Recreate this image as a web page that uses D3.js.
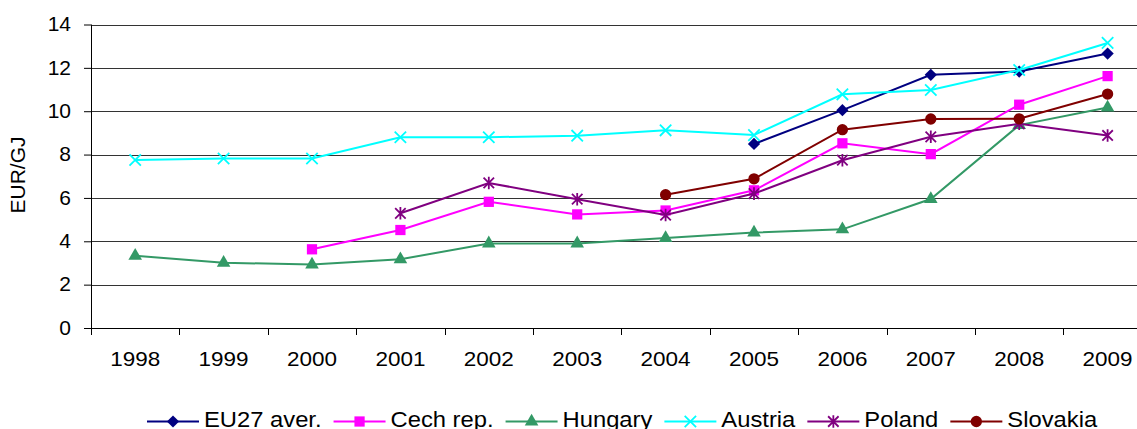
<!DOCTYPE html>
<html>
<head>
<meta charset="utf-8">
<script src="https://cdn.jsdelivr.net/npm/d3@7"></script>
<style>
  body { margin: 0; background: #fff; }
  svg text { font-family: "Liberation Sans", Arial, sans-serif; fill: #000; }
</style>
</head>
<body>
<svg id="chart" width="1137" height="429"></svg>
<script>
// data (null = no value that year)
var years = ["1998", "1999", "2000", "2001", "2002", "2003", "2004", "2005", "2006", "2007", "2008", "2009"];
var eu27 = [null, null, null, null, null, null, null, 8.49, 10.05, 11.68, 11.83, 12.66];
var cech = [null, null, 3.63, 4.52, 5.82, 5.24, 5.42, 6.35, 8.52, 8.02, 10.3, 11.62];
var hungary = [3.33, 3.01, 2.93, 3.17, 3.9, 3.9, 4.15, 4.4, 4.55, 5.95, 9.36, 10.17];
var austria = [7.75, 7.82, 7.82, 8.8, 8.8, 8.87, 9.12, 8.9, 10.78, 10.98, 11.9, 13.15];
var poland = [null, null, null, 5.29, 6.69, 5.94, 5.21, 6.2, 7.74, 8.82, 9.42, 8.88];
var slovakia = [null, null, null, null, null, null, 6.15, 6.88, 9.15, 9.64, 9.65, 10.79];
var yTicks = [0, 2, 4, 6, 8, 10, 12, 14];

var svg = d3.select('#chart');

var plotLeft = 91, plotTop = 24.5, plotBottom = 328, band = 88.4;

var xScale = d3.scaleBand()
    .domain(years)
    .range([plotLeft, plotLeft + band * years.length]);

var yScale = d3.scaleLinear()
    .domain([0, 14])
    .range([plotBottom, plotTop]);

// custom marker shapes
var symX = {
    draw: function(ctx, size) {
        var r = Math.sqrt(size) / 2;
        ctx.moveTo(-r, -r); ctx.lineTo(r, r);
        ctx.moveTo(r, -r); ctx.lineTo(-r, r);
    }
};
var symStar = {
    draw: function(ctx, size) {
        var r = Math.sqrt(size) / 2;
        ctx.moveTo(-r, -r); ctx.lineTo(r, r);
        ctx.moveTo(r, -r); ctx.lineTo(-r, r);
        ctx.moveTo(0, -r * 1.2); ctx.lineTo(0, r * 1.2);
    }
};

var series = [
    {name: "EU27 aver.", values: eu27, color: "#000080", type: d3.symbolSquare, size: 75, rot: 45, fill: true},
    {name: "Cech rep.", values: cech, color: "#ff00ff", type: d3.symbolSquare, size: 105, rot: 0, fill: true},
    {name: "Hungary", values: hungary, color: "#339966", type: d3.symbolTriangle, size: 80, rot: 0, fill: true},
    {name: "Austria", values: austria, color: "#00ffff", type: symX, size: 130, rot: 0, fill: false},
    {name: "Poland", values: poland, color: "#800080", type: symStar, size: 110, rot: 0, fill: false},
    {name: "Slovakia", values: slovakia, color: "#800000", type: d3.symbolCircle, size: 100, rot: 0, fill: true}
];

// gridlines
svg.append("g")
    .selectAll("line")
    .data(yTicks.filter(d => d > 0))
    .enter()
    .append("line")
    .attr("x1", plotLeft)
    .attr("x2", 1137)
    .attr("y1", d => Math.round(yScale(d)) + 0.5)
    .attr("y2", d => Math.round(yScale(d)) + 0.5)
    .style("stroke", "#333")
    .style("stroke-width", 1);

// y axis
var yAxis = d3.axisLeft(yScale).tickValues(yTicks).tickSize(7).tickPadding(13);
var yG = svg.append("g")
    .attr("transform", "translate(" + plotLeft + ",0)")
    .call(yAxis);
yG.select(".domain").remove();
yG.selectAll(".tick line").style("stroke", "#000");
yG.selectAll(".tick text")
    .style("font-size", "21px")
    .style("font-family", "Liberation Sans, Arial, sans-serif")
    .attr("dy", "0.3em");
svg.append("line")
    .attr("x1", plotLeft + 0.5).attr("x2", plotLeft + 0.5)
    .attr("y1", plotTop).attr("y2", plotBottom)
    .style("stroke", "#000");

// x axis
var xAxis = d3.axisBottom(xScale).tickSize(0).tickPadding(23);
var xG = svg.append("g")
    .attr("transform", "translate(0," + plotBottom + ")")
    .call(xAxis);
xG.select(".domain").remove();
xG.selectAll(".tick text")
    .style("font-size", "21px")
    .style("font-family", "Liberation Sans, Arial, sans-serif")
    .each(function() {
        var w = this.getComputedTextLength() * 1.07;
        d3.select(this).attr("textLength", w).attr("lengthAdjust", "spacingAndGlyphs");
    });
svg.append("line")
    .attr("x1", plotLeft).attr("x2", 1137)
    .attr("y1", plotBottom + 0.5).attr("y2", plotBottom + 0.5)
    .style("stroke", "#000");
// tick marks between categories
svg.append("g")
    .selectAll("line")
    .data(years)
    .enter()
    .append("line")
    .attr("x1", d => Math.round(xScale(d)) + 0.5)
    .attr("x2", d => Math.round(xScale(d)) + 0.5)
    .attr("y1", plotBottom)
    .attr("y2", plotBottom + 7)
    .style("stroke", "#000");

svg.append("text")
    .attr("transform", "translate(25,175)rotate(-90)")
    .attr("text-anchor", "middle")
    .style("font-size", "21px")
    .text("EUR/GJ");

function symbolPath(s) {
    return d3.symbol().type(s.type).size(s.size)();
}

function drawMarker(sel, s) {
    sel.append("path")
        .attr("d", symbolPath(s))
        .attr("transform", "rotate(" + s.rot + ")")
        .style("fill", s.fill ? s.color : "none")
        .style("stroke", s.color)
        .style("stroke-width", s.fill ? 0 : 1.8);
}

var line = d3.line()
    .defined(d => d.v !== null)
    .x(d => xScale(d.year) + xScale.bandwidth() / 2)
    .y(d => yScale(d.v));

series.forEach(function(s) {
    var pts = years.map((y, i) => ({year: y, v: s.values[i]}));
    var g = svg.append("g");
    g.append("path")
        .datum(pts)
        .attr("d", line)
        .style("fill", "none")
        .style("stroke", s.color)
        .style("stroke-width", 2);
    var m = g.selectAll("g.pt")
        .data(pts.filter(d => d.v !== null))
        .enter()
        .append("g")
        .attr("class", "pt")
        .attr("transform", d => "translate(" + (xScale(d.year) + xScale.bandwidth() / 2) + "," + yScale(d.v) + ")");
    drawMarker(m, s);
});

// legend
var lx = 147;
var legend = svg.append("g");
series.forEach(function(s) {
    var item = legend.append("g");
    item.append("line")
        .attr("x1", lx).attr("x2", lx + 52)
        .attr("y1", 421.5).attr("y2", 421.5)
        .style("stroke", s.color)
        .style("stroke-width", 2);
    var mk = item.append("g").attr("transform", "translate(" + (lx + 26) + ",421.5)");
    drawMarker(mk, s);
    var t = item.append("text")
        .attr("x", lx + 57)
        .attr("y", 427)
        .style("font-size", "22px")
        .text(s.name);
    var w = t.node().getComputedTextLength() * 1.08;
    t.attr("textLength", w).attr("lengthAdjust", "spacingAndGlyphs");
    lx = lx + 57 + w + 12;
});
</script>
</body>
</html>
